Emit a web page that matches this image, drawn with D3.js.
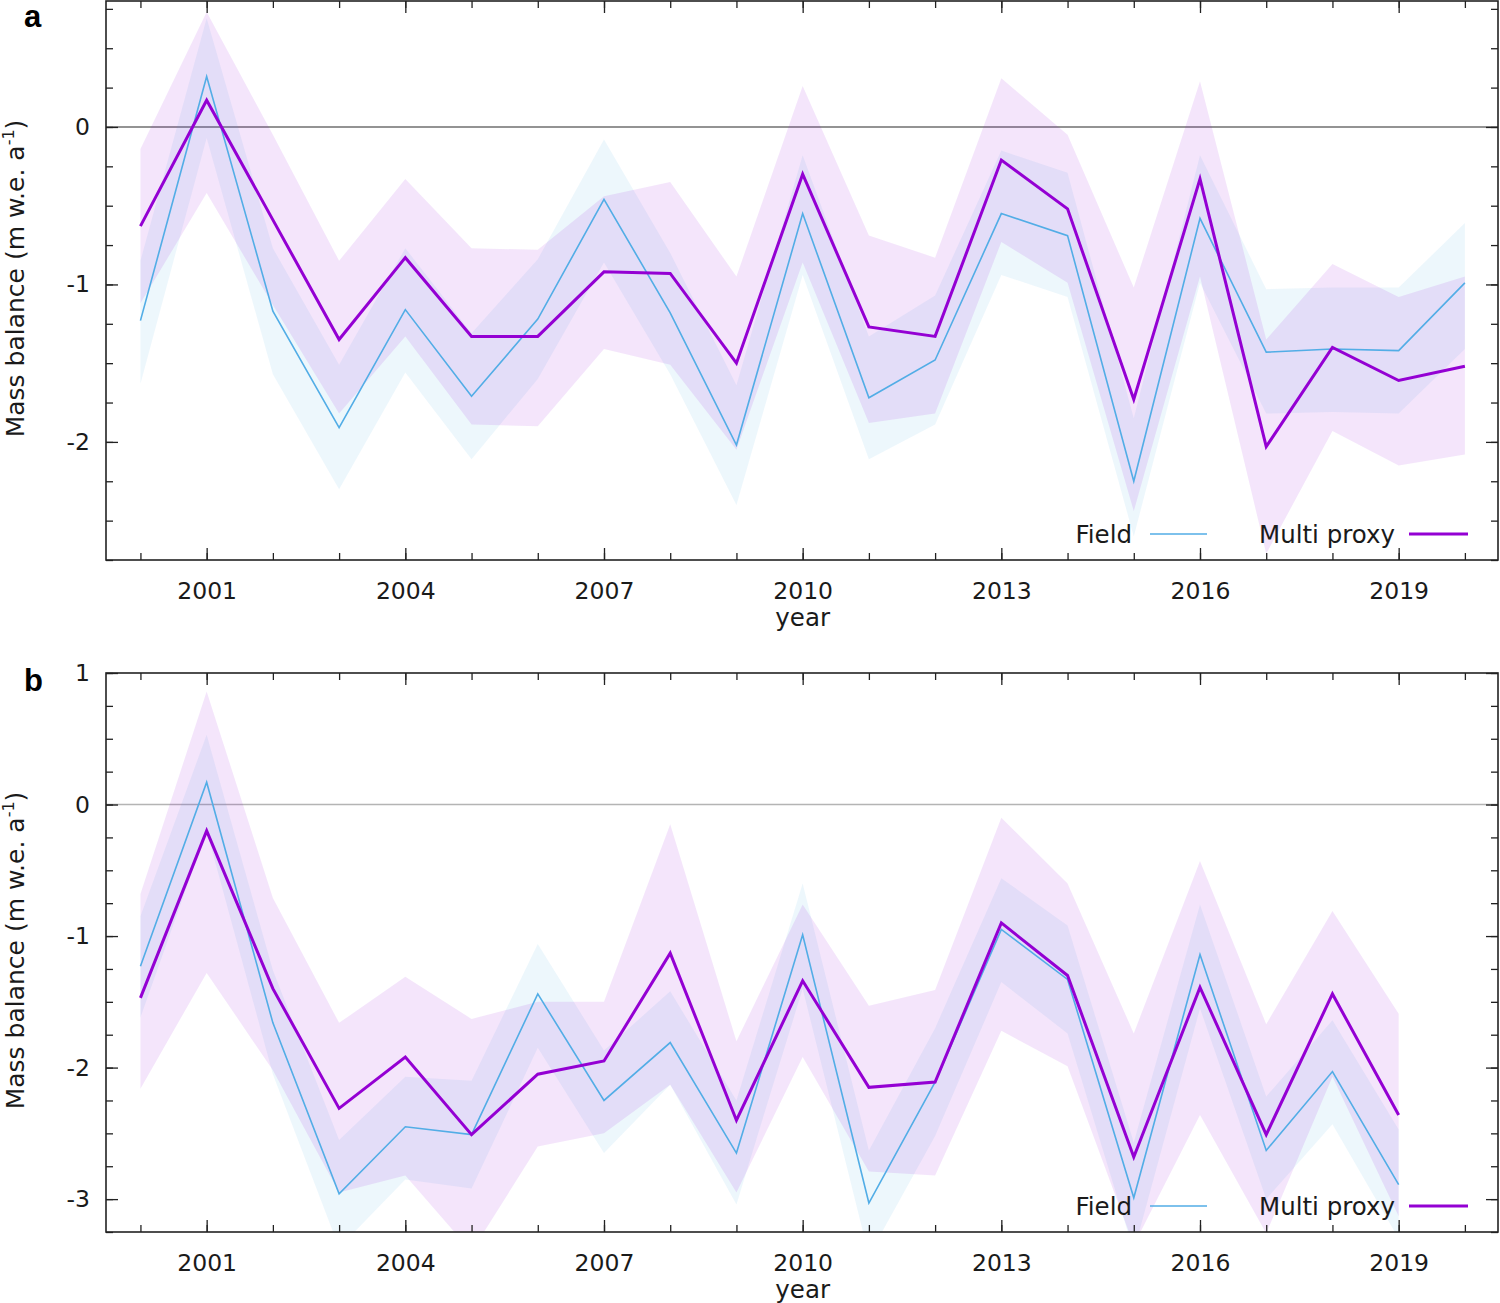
<!DOCTYPE html>
<html>
<head>
<meta charset="utf-8">
<script src="https://cdn.jsdelivr.net/npm/d3@7"></script>
<style>
  body { margin: 0; background: #fff; }
  text { font-family: 'DejaVu Sans', sans-serif; fill: #1a1a1a; }
</style>
</head>
<body>
<div class="chart"></div>
<script>
// ---- data ----
const yearsA = d3.range(2000, 2021)
const yearsB = d3.range(2000, 2020)
const labelYears = [2001, 2004, 2007, 2010, 2013, 2016, 2019]

const fieldA   = [-1.23, 0.32, -1.17, -1.91, -1.16, -1.71, -1.22, -0.46, -1.18, -2.02, -0.55, -1.72, -1.48, -0.55, -0.69, -2.25, -0.58, -1.43, -1.41, -1.42, -0.99]
const fieldAHi = [-0.85, 0.69, -0.77, -1.51, -0.77, -1.31, -0.84, -0.08, -0.80, -1.64, -0.18, -1.33, -1.07, -0.15, -0.29, -1.85, -0.18, -1.03, -1.02, -1.02, -0.61]
const fieldALo = [-1.63, -0.07, -1.57, -2.30, -1.56, -2.11, -1.60, -0.86, -1.57, -2.40, -0.94, -2.11, -1.89, -0.94, -1.08, -2.60, -0.99, -1.82, -1.81, -1.82, -1.41]
const proxyA   = [-0.63, 0.17, -0.59, -1.35, -0.83, -1.33, -1.33, -0.92, -0.93, -1.50, -0.30, -1.27, -1.33, -0.21, -0.52, -1.73, -0.33, -2.03, -1.40, -1.61, -1.52]
const proxyAHi = [-0.14, 0.73, -0.05, -0.85, -0.33, -0.77, -0.78, -0.44, -0.35, -0.95, 0.26, -0.69, -0.83, 0.31, -0.05, -1.02, 0.29, -1.35, -0.87, -1.08, -0.95]
const proxyALo = [-1.12, -0.42, -1.13, -1.82, -1.33, -1.89, -1.90, -1.41, -1.51, -2.05, -0.86, -1.88, -1.82, -0.73, -0.99, -2.44, -0.95, -2.71, -1.93, -2.15, -2.08]

const fieldB   = [-1.23, 0.17, -1.66, -2.96, -2.45, -2.51, -1.44, -2.25, -1.81, -2.65, -0.99, -3.03, -2.11, -0.95, -1.33, -2.99, -1.14, -2.63, -2.03, -2.89]
const fieldBHi = [-0.85, 0.53, -1.26, -2.55, -2.07, -2.10, -1.06, -1.87, -1.42, -2.25, -0.60, -2.63, -1.70, -0.56, -0.92, -2.57, -0.76, -2.22, -1.64, -2.47]
const fieldBLo = [-1.62, -0.20, -2.05, -3.37, -2.85, -2.92, -1.85, -2.65, -2.13, -3.04, -1.40, -3.43, -2.52, -1.35, -1.74, -3.40, -1.55, -3.00, -2.43, -3.30]
const proxyB   = [-1.47, -0.20, -1.40, -2.31, -1.92, -2.51, -2.05, -1.95, -1.13, -2.40, -1.34, -2.15, -2.11, -0.90, -1.30, -2.68, -1.39, -2.51, -1.44, -2.36]
const proxyBHi = [-0.68, 0.86, -0.71, -1.66, -1.31, -1.63, -1.50, -1.50, -0.15, -1.80, -0.76, -1.53, -1.41, -0.10, -0.60, -1.74, -0.43, -1.67, -0.81, -1.59]
const proxyBLo = [-2.16, -1.28, -2.02, -2.95, -2.82, -3.40, -2.60, -2.50, -2.13, -2.95, -1.92, -2.79, -2.82, -1.72, -1.99, -3.35, -2.36, -3.26, -2.07, -3.13]

// ---- layout ----
const width = 1500
const height = 1303
const plotLeft = 106
const plotRight = 1498

const fieldColor = '#52ade6'
const proxyColor = '#9400d3'

const svg = d3.select('.chart').append('svg').attr('width', width).attr('height', height)

const x = d3.scaleLinear().domain([1999.48, 2020.5]).range([plotLeft, plotRight])

function rows(years, mid, lo, hi) {
  return years.map((yr, i) => ({ year: yr, mid: mid[i], lo: lo[i], hi: hi[i] }))
}

function drawPanel(p) {
  const y = d3.scaleLinear().domain(p.domain).range([p.bottom, p.top])
  const g = svg.append('g')

  const clipId = 'clip-' + p.letter
  svg.append('clipPath').attr('id', clipId)
    .append('rect').attr('x', plotLeft).attr('y', p.top).attr('width', plotRight - plotLeft).attr('height', p.bottom - p.top)

  const plot = g.append('g').attr('clip-path', `url(#${clipId})`)

  // zero line
  plot.append('line')
    .attr('x1', plotLeft).attr('x2', plotRight)
    .attr('y1', y(0)).attr('y2', y(0))
    .style('stroke', p.zeroColor).style('stroke-width', 1.4)

  const area = d3.area().x(d => x(d.year)).y0(d => y(d.lo)).y1(d => y(d.hi))
  const line = d3.line().x(d => x(d.year)).y(d => y(d.mid))

  plot.append('path').datum(p.field).attr('d', area)
    .style('fill', fieldColor).style('fill-opacity', 0.1)
  plot.append('path').datum(p.proxy).attr('d', area)
    .style('fill', proxyColor).style('fill-opacity', 0.1)

  plot.append('path').datum(p.field).attr('d', line)
    .style('fill', 'none').style('stroke', fieldColor).style('stroke-width', 1.6)
  plot.append('path').datum(p.proxy).attr('d', line)
    .style('fill', 'none').style('stroke', proxyColor).style('stroke-width', 3)

  // axes, ticks pointing inwards on all four sides
  const minorY = d3.range(p.domain[0], p.domain[1] + 1e-9, 0.25)
  const majorY = minorY.filter(v => Number.isInteger(v))
  const allYears = d3.range(2000, 2021)

  const axes = [
    [d3.axisBottom(x).tickValues(allYears).tickSize(-7).tickFormat(''), `translate(0,${p.bottom})`],
    [d3.axisBottom(x).tickValues(labelYears).tickSize(-12).tickPadding(22).tickFormat(d3.format('d')), `translate(0,${p.bottom})`],
    [d3.axisTop(x).tickValues(allYears).tickSize(-7).tickFormat(''), `translate(0,${p.top})`],
    [d3.axisTop(x).tickValues(labelYears).tickSize(-12).tickFormat(''), `translate(0,${p.top})`],
    [d3.axisLeft(y).tickValues(minorY).tickSize(-7).tickFormat(''), `translate(${plotLeft},0)`],
    [d3.axisLeft(y).tickValues(majorY).tickSize(-12).tickPadding(16).tickFormat(d => String(d)), `translate(${plotLeft},0)`],
    [d3.axisRight(y).tickValues(minorY).tickSize(-7).tickFormat(''), `translate(${plotRight},0)`],
    [d3.axisRight(y).tickValues(majorY).tickSize(-12).tickFormat(''), `translate(${plotRight},0)`]
  ]
  axes.forEach(([ax, tr]) => {
    const a = g.append('g').attr('transform', tr).call(ax)
    a.select('.domain').remove()
    a.selectAll('line').style('stroke', '#222').style('stroke-width', 1.3)
    a.selectAll('text').style('font-family', "'DejaVu Sans', sans-serif").style('font-size', '23.5px').style('fill', '#1a1a1a')
  })

  g.append('rect')
    .attr('x', plotLeft).attr('y', p.top)
    .attr('width', plotRight - plotLeft).attr('height', p.bottom - p.top)
    .style('fill', 'none').style('stroke', '#222').style('stroke-width', 1.6)

  // axis titles
  const mid = (p.top + p.bottom) / 2 - 2
  const yl = g.append('text')
    .attr('transform', `translate(24,${mid}) rotate(-90)`)
    .attr('text-anchor', 'middle')
    .style('font-size', '25px')
  yl.append('tspan').text('Mass balance (m w.e. a')
  yl.append('tspan').attr('dy', -10).style('font-size', '16px').text('-1')
  yl.append('tspan').attr('dy', 10).text(')')

  g.append('text')
    .attr('x', x(2010)).attr('y', p.bottom + 66)
    .attr('text-anchor', 'middle')
    .style('font-size', '24.5px')
    .text('year')

  g.append('text')
    .attr('x', 24).attr('y', p.letterY)
    .style('font-family', "'Liberation Sans', Arial, sans-serif")
    .style('font-weight', 'bold').style('font-size', '31px').style('fill', '#000')
    .text(p.letter)

  // legend
  const ly = p.bottom - 26
  const legend = g.append('g')
  legend.append('text').attr('x', 1132).attr('y', ly).attr('dy', '0.36em').attr('text-anchor', 'end')
    .style('font-size', '24.5px').text('Field')
  legend.append('line').attr('x1', 1150).attr('x2', 1207).attr('y1', ly).attr('y2', ly)
    .style('stroke', fieldColor).style('stroke-width', 1.6)
  legend.append('text').attr('x', 1395).attr('y', ly).attr('dy', '0.36em').attr('text-anchor', 'end')
    .style('font-size', '24.5px').text('Multi proxy')
  legend.append('line').attr('x1', 1409).attr('x2', 1468).attr('y1', ly).attr('y2', ly)
    .style('stroke', proxyColor).style('stroke-width', 3)
}

drawPanel({
  letter: 'a', letterY: 27, top: 1, bottom: 560, domain: [-2.75, 0.8], zeroColor: '#6f6f6f',
  field: rows(yearsA, fieldA, fieldALo, fieldAHi),
  proxy: rows(yearsA, proxyA, proxyALo, proxyAHi)
})

drawPanel({
  letter: 'b', letterY: 691, top: 673, bottom: 1232, domain: [-3.25, 1.0], zeroColor: '#b4b4b4',
  field: rows(yearsB, fieldB, fieldBLo, fieldBHi),
  proxy: rows(yearsB, proxyB, proxyBLo, proxyBHi)
})
</script>
</body>
</html>
